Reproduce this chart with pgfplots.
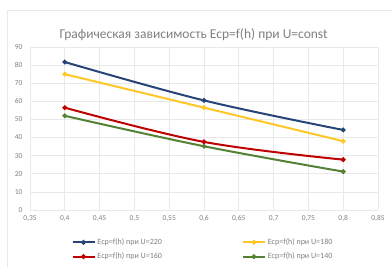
\documentclass[border=0pt]{standalone}
\usepackage{fontspec}
\setmainfont{Carlito}
\usepackage{pgfplots}
\pgfplotsset{compat=1.18}
\definecolor{cblue}{HTML}{264478}
\definecolor{cyel}{HTML}{FFC726}
\definecolor{cred}{HTML}{C00000}
\definecolor{cgreen}{HTML}{548235}
\definecolor{tgray}{HTML}{7F7F7F}
\definecolor{ggray}{HTML}{E9E9E9}
\begin{document}
\begin{tikzpicture}[x=1pt,y=1pt]
\useasboundingbox (-30,-57) rectangle (362,210);
\draw[ggray,line width=0.8pt] (-23,-57) -- (-23,200) -- (362,200);
\begin{axis}[
  at={(0,0)}, anchor=south west,
  scale only axis, width=348pt, height=163pt,
  xmin=0.35, xmax=0.85, ymin=0, ymax=90,
  xtick={0.35,0.4,...,0.851}, ytick={0,10,...,90},
  grid=major, major grid style={ggray, line width=0.6pt},
  axis line style={draw=none}, tick style={draw=none},
  ticklabel style={font=\fontsize{7.5}{8}\selectfont, text=tgray},
  xticklabel style={yshift=-2pt},
  yticklabel style={xshift=-4pt},
  /pgf/number format/assume math mode=true,
  /pgf/number format/use comma,
  /pgf/number format/fixed,
  /pgf/number format/precision=2,
  title={Графическая зависимость Ecp=f(h) при U=const},
  title style={font=\fontsize{13.5}{15}\selectfont, text=tgray, at={(0.47,1)}, anchor=south, yshift=-3pt},
  legend columns=2,
  legend style={draw=none, fill=none, at={(0.497,-0.15)}, anchor=north,
    font=\fontsize{8}{9}\selectfont, text=tgray, row sep=3pt,
    /tikz/every even column/.append style={column sep=78pt}},
  legend image code/.code={\draw[#1,mark repeat=2,mark phase=2] plot coordinates {(0pt,0pt) (11pt,0pt) (22pt,0pt)};},
]
\addplot[cblue, line width=2pt, smooth, tension=0.6, mark=*, mark size=1.3pt, mark options={fill=cblue}] coordinates {(0.4,81.7) (0.6,60.5) (0.8,44.2)};
\addlegendentry{Ecp=f(h) при U=220}
\addplot[cyel, line width=2pt, smooth, tension=0.6, mark=*, mark size=1.3pt, mark options={fill=cyel}] coordinates {(0.4,75) (0.6,56.5) (0.8,38)};
\addlegendentry{Ecp=f(h) при U=180}
\addplot[cred, line width=2pt, smooth, tension=0.6, mark=*, mark size=1.3pt, mark options={fill=cred}] coordinates {(0.4,56.5) (0.6,37.6) (0.8,27.8)};
\addlegendentry{Ecp=f(h) при U=160}
\addplot[cgreen, line width=2pt, smooth, tension=0.6, mark=*, mark size=1.3pt, mark options={fill=cgreen}] coordinates {(0.4,52) (0.6,35.2) (0.8,21.2)};
\addlegendentry{Ecp=f(h) при U=140}
\end{axis}
\end{tikzpicture}
\end{document}
